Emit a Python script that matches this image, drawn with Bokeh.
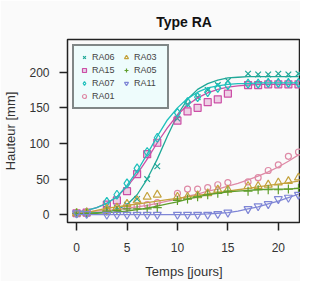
from bokeh.plotting import figure
from bokeh.models import Range1d, FixedTicker, Legend, LegendItem
from bokeh.embed import file_html
from bokeh.resources import INLINE

# observation days
days = [0, 1, 3, 4, 5, 6, 7, 8, 10, 11, 12, 13, 14, 15, 17, 18, 19, 20, 21, 22]
# fitted-curve days
fit_days = list(range(0, 23))

ra06 = [2, 3, 8, 10, 14, 22, 50, 68, 135, 155, 165, 175, 182, 188, 198, 197, 197, 198, 197, 198]
ra15 = [2, 3, 14, 20, 33, 57, 85, 101, 132, 145, 150, 158, 162, 170, 182, 182, 183, 183, 183, 183]
ra07 = [2, 3, 18, 28, 44, 65, 88, 108, 143, 158, 165, 172, 178, 182, 184, 184, 185, 185, 185, 185]
ra01 = [2, 3, 5, 8, 10, 12, 14, 17, 30, 36, 36, 38, 42, 45, 46, 52, 62, 70, 82, 88]
ra03 = [2, 3, 8, 10, 15, 20, 25, 28, 25, 25, 27, 30, 35, 35, 40, 40, 42, 45, 47, 52]
ra05 = [2, 2, 5, 6, 8, 8, 8, 10, 20, 22, 25, 28, 30, 33, 33, 35, 35, 35, 36, 37]
ra11 = [2, 1, 0, 0, 0, 0, 0, 0, 0, 0, 0, 0, 1, 3, 8, 12, 15, 22, 24, 28]

fit06 = [2, 2, 3, 4, 7, 14, 28, 50, 78, 110, 140, 162, 176, 184, 189, 192, 193, 194, 194, 194, 194, 194, 194]
fit15 = [4, 6, 10, 16, 25, 39, 57, 78, 101, 122, 140, 154, 164, 171, 176, 179, 181, 182, 183, 183, 183, 183, 183]
fit07 = [3, 6, 10, 16, 25, 41, 61, 85, 110, 133, 150, 163, 172, 178, 181, 183, 184, 184, 185, 185, 185, 185, 185]
fit01 = [3, 4, 5, 6, 7, 9, 11, 13, 16, 19, 22, 26, 29, 33, 36, 40, 44, 49, 54, 60, 67, 75, 84]
fit03 = [1, 3, 6, 9, 11, 13, 15, 17, 19, 21, 23, 25, 27, 29, 31, 33, 35, 37, 39, 41, 43, 45, 47]
fit05 = [1, 2, 2, 3, 4, 5, 7, 9, 12, 15, 18, 22, 25, 28, 30, 32, 33, 34, 35, 36, 36, 36, 37]
fit11 = [0, 0, 0, 0, 0, 0, 0, 0, 0, 0, 0, 0, 0.5, 1, 2, 3, 5, 8, 11, 15, 19, 24, 29]

names = ["RA06", "RA15", "RA07", "RA01", "RA03", "RA05", "RA11"]
obs = [ra06, ra15, ra07, ra01, ra03, ra05, ra11]
fits = [fit06, fit15, fit07, fit01, fit03, fit05, fit11]
colors = ["#1fa898", "#cc4fa6", "#1fc0bc", "#de8aa6", "#c4a23c", "#5f9e2c", "#7f86d6"]
markers = ["x", "square", "diamond", "circle", "triangle", "cross", "inverted_triangle"]
sizes = [8, 7, 9, 6, 8, 9, 8]

x_ticks = [0, 5, 10, 15, 20]
y_ticks = [0, 50, 100, 150, 200]

p = figure(width=300, height=281, output_backend="svg", toolbar_location=None,
           x_range=Range1d(-0.9, 22.2), y_range=Range1d(-11, 246),
           min_border_left=61, min_border_right=0, min_border_top=39, min_border_bottom=59,
           title="Type RA")
p.background_fill_color = "#fafafa"
p.border_fill_color = "#fafafa"
p.outline_line_color = "#222222"
p.outline_line_width = 1.5
p.xgrid.visible = False
p.ygrid.visible = False

p.title.align = "center"
p.title.text_font = "Liberation Sans"
p.title.text_font_size = "14px"
p.title.text_font_style = "bold"
p.title.text_color = "#111111"
p.title.standoff = 20

for ax, ticks in ((p.xaxis[0], x_ticks), (p.yaxis[0], y_ticks)):
    ax.ticker = FixedTicker(ticks=ticks)
    ax.axis_line_color = None
    ax.major_tick_in = 0
    ax.major_tick_out = 8
    ax.major_tick_line_color = "#222222"
    ax.major_tick_line_width = 1.5
    ax.minor_tick_line_color = None
    ax.major_label_text_font = "Liberation Sans"
    ax.major_label_text_font_size = "12px"
    ax.major_label_text_color = "#333333"
    ax.axis_label_text_font = "Liberation Sans"
    ax.axis_label_text_font_size = "13px"
    ax.axis_label_text_font_style = "normal"
    ax.axis_label_text_color = "#333333"

p.xaxis.axis_label = "Temps [jours]"
p.yaxis.axis_label = "Hauteur [mm]"
p.xaxis.major_label_standoff = 12
p.xaxis.axis_label_standoff = 9
p.yaxis.major_label_standoff = 10
p.yaxis.axis_label_standoff = 8
p.yaxis.major_label_orientation = "horizontal"

items = []
for name, ob, ft, c, m, s in zip(names, obs, fits, colors, markers, sizes):
    p.line(fit_days, ft, line_color=c, line_width=1.3)
    r = p.scatter(days, ob, marker=m, size=s, line_color=c, line_width=1.2,
                  fill_color=c, fill_alpha=0.25 if m == "square" else 0.0)
    items.append(LegendItem(label=name, renderers=[r]))

legend = Legend(items=items, location="top_left", nrows=4,
                background_fill_color="#eefcfc", background_fill_alpha=1.0,
                border_line_color="#111111", border_line_width=2,
                label_text_font="Liberation Sans", label_text_font_size="9px",
                label_text_color="#444444", glyph_width=10, glyph_height=12,
                label_height=12, label_width=28, label_standoff=3, spacing=1,
                padding=5, margin=5)
p.add_layout(legend)

open("out.html", "w").write(file_html(p, INLINE))
